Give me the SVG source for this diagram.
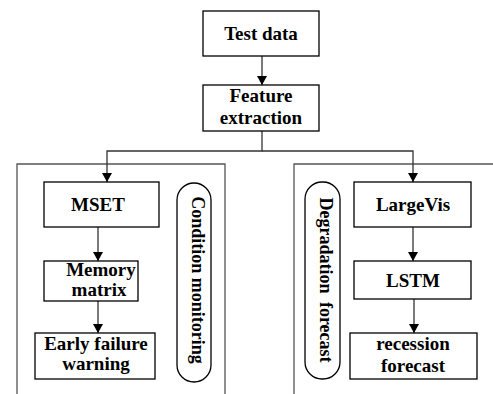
<svg xmlns="http://www.w3.org/2000/svg" width="493" height="394" viewBox="0 0 493 394">
<defs>
<marker id="ah" markerWidth="9" markerHeight="10" refX="9" refY="5" orient="auto" markerUnits="userSpaceOnUse">
<path d="M0,0 L9,5 L0,10 Z" fill="#000"/>
</marker>
<style>
.box{fill:#fff;stroke:#000;stroke-width:1.3}
.pnl{fill:none;stroke:#555;stroke-width:1.3}
.pill{fill:#fff;stroke:#000;stroke-width:1.3}
.t{font-family:"Liberation Serif","Times New Roman",serif;font-weight:bold;font-size:19px;text-anchor:middle;fill:#000}
.v{font-family:"Liberation Serif","Times New Roman",serif;font-weight:bold;font-size:18px;text-anchor:middle;fill:#000}
.c{fill:none;stroke:#333;stroke-width:1.3}
</style>
</defs>
<rect width="493" height="394" fill="#fff"/>
<g id="panel-left"><path class="pnl" d="M17,394 V164 H225 V394"/></g>
<g id="panel-right"><path class="pnl" d="M294,394 V164 H493"/></g>
<g id="connectors">
<path class="c" d="M262,56 V85" marker-end="url(#ah)"/>
<path class="c" d="M262,131 V151 H107 V182" marker-end="url(#ah)"/>
<path class="c" d="M262,151 H413 V182" marker-end="url(#ah)"/>
<path class="c" d="M98,227 V261" marker-end="url(#ah)"/>
<path class="c" d="M98,301 V333" marker-end="url(#ah)"/>
<path class="c" d="M413,227 V261" marker-end="url(#ah)"/>
<path class="c" d="M414,299 V333" marker-end="url(#ah)"/>
</g>
<g id="test-data"><rect class="box" x="203" y="11" width="116" height="45"/><text class="t" x="261" y="40">Test data</text></g>
<g id="feature-extraction"><rect class="box" x="203" y="85" width="116" height="46"/><text class="t" x="261" y="102">Feature</text><text class="t" x="261" y="124">extraction</text></g>
<g id="mset"><rect class="box" x="44" y="182" width="115" height="45"/><text class="t" x="98" y="211">MSET</text></g>
<g id="memory-matrix"><rect class="box" x="44" y="261" width="94" height="40"/><text class="t" x="101" y="276">Memory</text><text class="t" x="99" y="296">matrix</text></g>
<g id="early-failure-warning"><rect class="box" x="35" y="333" width="120" height="46"/><text class="t" x="96" y="350">Early failure</text><text class="t" x="96" y="370">warning</text></g>
<g id="condition-monitoring"><rect class="pill" x="177" y="183" width="34" height="199" rx="17" ry="17"/><text class="v" transform="translate(191.5,280) rotate(90)">Condition monitoring</text></g>
<g id="degradation-forecast"><rect class="pill" x="305" y="182" width="35" height="197" rx="17" ry="17"/><text class="v" transform="translate(319.5,280) rotate(90)" word-spacing="4">Degradation forecast</text></g>
<g id="largevis"><rect class="box" x="354" y="182" width="117" height="45"/><text class="t" x="413" y="211">LargeVis</text></g>
<g id="lstm"><rect class="box" x="354" y="261" width="117" height="38"/><text class="t" x="413" y="287">LSTM</text></g>
<g id="recession-forecast"><rect class="box" x="350" y="333" width="127" height="46"/><text class="t" x="413" y="350">recession</text><text class="t" x="413" y="372">forecast</text></g>
</svg>
